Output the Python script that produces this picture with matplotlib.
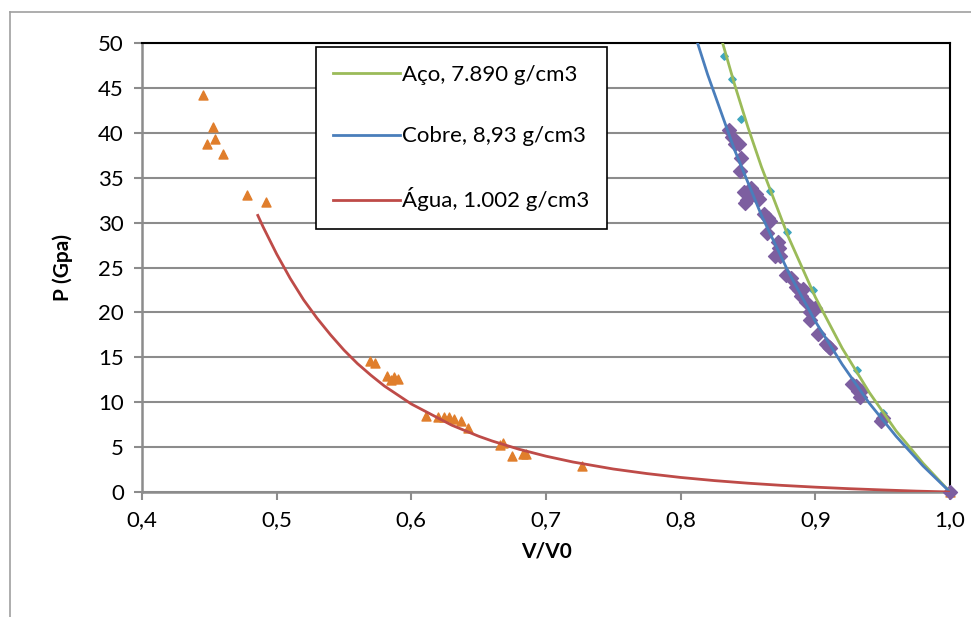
import matplotlib.pyplot as plt
from matplotlib.lines import Line2D

plt.rcParams['font.family'] = ['Lato', 'DejaVu Sans']

# agua - pontos medidos
agua_v = [0.445, 0.453, 0.448, 0.454, 0.460, 0.478, 0.492, 0.569, 0.573, 0.582,
          0.585, 0.587, 0.590, 0.611, 0.620, 0.624, 0.628, 0.632, 0.637, 0.642,
          0.666, 0.668, 0.675, 0.683, 0.685, 0.727, 1.0]
agua_p = [44.2, 40.7, 38.8, 39.3, 37.6, 33.1, 32.3, 14.6, 14.4, 12.9,
          12.5, 12.8, 12.6, 8.5, 8.4, 8.4, 8.4, 8.1, 7.9, 7.1,
          5.2, 5.5, 4.0, 4.2, 4.2, 2.9, 0.0]

# aco - pontos medidos
aco_v = [0.832, 0.838, 0.845, 0.866, 0.879, 0.898, 0.931, 0.950, 1.0]
aco_p = [48.5, 46.0, 41.5, 33.5, 29.0, 22.5, 13.6, 8.8, 0.0]

# cobre - pontos medidos
cobre_v = [0.836, 0.838, 0.840, 0.843, 0.845, 0.844, 0.847, 0.849, 0.848, 0.852,
           0.856, 0.858, 0.862, 0.865, 0.866, 0.864, 0.872, 0.873, 0.870, 0.874,
           0.878, 0.882, 0.886, 0.888, 0.889, 0.891, 0.893, 0.896, 0.899, 0.900,
           0.896, 0.902, 0.908, 0.910, 0.911, 0.927, 0.930, 0.932, 0.934, 0.933,
           0.950, 0.949, 1.0]
cobre_p = [40.3, 39.5, 38.8, 38.8, 37.2, 35.7, 33.4, 32.5, 32.2, 33.8,
           33.2, 32.6, 31.0, 30.5, 30.2, 28.8, 27.8, 27.2, 26.3, 26.3,
           24.2, 23.8, 22.8, 22.5, 21.8, 22.6, 21.2, 20.0, 20.3, 20.5,
           19.1, 17.6, 16.5, 16.2, 16.0, 12.0, 11.8, 11.3, 11.2, 10.6,
           8.2, 7.9, 0.0]

# curvas ajustadas
aco_fit_v = [0.83, 0.84, 0.85, 0.86, 0.88, 0.90, 0.92, 0.94, 0.96, 0.98, 1.0]
aco_fit_p = [50.6, 45.4, 40.6, 36.2, 28.4, 21.7, 16.0, 11.1, 6.8, 3.2, 0.0]

cobre_fit_v = [0.81, 0.82, 0.84, 0.86, 0.88, 0.90, 0.92, 0.94, 0.96, 0.98, 1.0]
cobre_fit_p = [51.2, 46.5, 38.1, 30.8, 24.5, 19.0, 14.2, 9.9, 6.2, 2.9, 0.0]

agua_fit_v = [0.486, 0.49, 0.50, 0.51, 0.52, 0.53, 0.54, 0.55, 0.56, 0.57,
              0.58, 0.60, 0.63, 0.65, 0.66, 0.68, 0.70, 0.72, 0.75, 0.775,
              0.80, 0.825, 0.85, 0.875, 0.90, 0.925, 0.95, 0.975, 1.0]
agua_fit_p = [30.8, 29.5, 26.5, 23.8, 21.4, 19.35, 17.5, 15.8, 14.3, 13.0,
              11.8, 9.8, 7.44, 6.21, 5.68, 4.76, 3.99, 3.34, 2.56, 2.05,
              1.62, 1.27, 0.98, 0.74, 0.54, 0.37, 0.23, 0.10, 0.0]

x_ticks = [0.4, 0.5, 0.6, 0.7, 0.8, 0.9, 1.0]
x_labels = ['0,4', '0,5', '0,6', '0,7', '0,8', '0,9', '1,0']
y_ticks = [0, 5, 10, 15, 20, 25, 30, 35, 40, 45, 50]

fig = plt.figure(figsize=(9.71, 6.17), dpi=100)
ax = fig.add_axes([142/971, 125/617, 808/971, 449/617])

ax.scatter(agua_v, agua_p, marker='^', s=42, color='#E07E2C', zorder=3, clip_on=False)
ax.scatter(aco_v, aco_p, marker='D', s=14, color='#3FA6BF', zorder=3, clip_on=False)
ax.scatter(cobre_v, cobre_p, marker='D', s=50, color='#7D5FA0', zorder=3, clip_on=False)

ax.plot(aco_fit_v, aco_fit_p, color='#9BBB59', lw=2, label='Aço, 7.890 g/cm3', zorder=4)
ax.plot(cobre_fit_v, cobre_fit_p, color='#4A7EBB', lw=2, label='Cobre, 8,93 g/cm3', zorder=4)
ax.plot(agua_fit_v, agua_fit_p, color='#BE4B48', lw=2, label='Água, 1.002 g/cm3', zorder=4)

ax.set_xlim(0.4, 1.0)
ax.set_ylim(0, 50)
ax.set_xticks(x_ticks)
ax.set_xticklabels(x_labels)
ax.set_yticks(y_ticks)
ax.yaxis.grid(True, color='#8C8C8C', lw=1.5)
ax.set_axisbelow(True)

ax.tick_params(axis='both', labelsize=16, color='#8C8C8C', width=1.5, length=6, pad=7)
for s in ['left', 'bottom']:
    ax.spines[s].set_color('#8C8C8C')
    ax.spines[s].set_linewidth(1.8)
for s in ['top', 'right']:
    ax.spines[s].set_color('black')
    ax.spines[s].set_linewidth(1.5)

ax.set_xlabel('V/V0', fontsize=15, fontweight='bold', labelpad=8)
ax.set_ylabel('P (Gpa)', fontsize=15, fontweight='bold', labelpad=18)

leg = ax.legend(loc='upper left', bbox_to_anchor=(0.215, 0.99), fontsize=16,
                frameon=True, fancybox=False, edgecolor='black', framealpha=1,
                handlelength=3.0, handletextpad=0.1, labelspacing=1.85,
                borderpad=0.8, borderaxespad=0)
leg.get_frame().set_linewidth(1.2)

# moldura externa do grafico
fig.add_artist(Line2D([10/971, 10/971], [0, 1 - 12/617], transform=fig.transFigure,
                      color='#A0A0A0', lw=1.2))
fig.add_artist(Line2D([10/971, 1], [1 - 12/617, 1 - 12/617], transform=fig.transFigure,
                      color='#A0A0A0', lw=1.2))

fig.savefig('out.png', dpi=100)
